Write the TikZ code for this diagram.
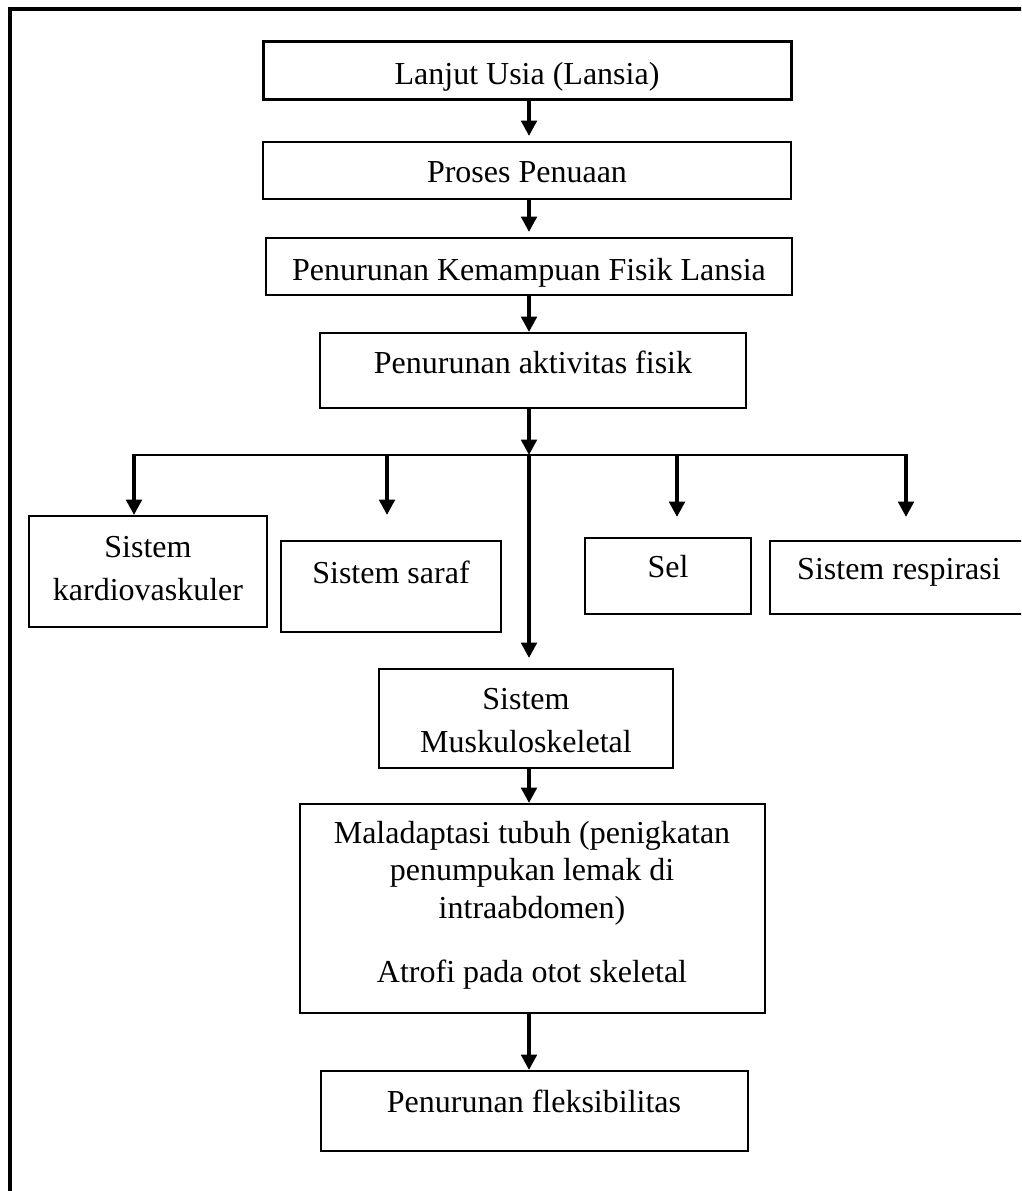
\documentclass[tikz,border=0pt]{standalone}
\usepackage{fontspec}
\setmainfont{Liberation Serif}
\usetikzlibrary{arrows.meta,calc,fit}
\begin{document}
\begin{tikzpicture}[x=0.75pt,y=-0.75pt,
  box/.style={draw, line width=1.5pt, inner sep=0pt},
  thickbox/.style={box, line width=2.25pt},
  lbl/.style={font=\fontsize{24}{28}\selectfont, align=center, inner sep=0pt, anchor=base},
  lblwide/.style={lbl, font=\fontsize{24}{32}\selectfont},
  arr/.style={line width=2.8pt, -{Triangle[width=11.5pt,length=11.5pt]}},
  busline/.style={line width=1.6pt},
  frameline/.style={line width=3pt}]
\useasboundingbox (0,0) rectangle (1021,1191);
\clip (0,0) rectangle (1021,1191);

% outer frame (top and left sides visible)
\draw[frameline] (10,1200) -- (10,9.5) -- (1030,9.5);

% boxes
\node[thickbox, fit={(263,42) (791,100)}] (b1) {};
\node[box, fit={(263,142) (791,199)}] (b2) {};
\node[box, fit={(266,238) (792,295)}] (b3) {};
\node[box, fit={(320,333) (746,408)}] (b4) {};
\node[box, fit={(29,516) (267,627)}] (kar) {};
\node[box, fit={(281,541) (501,632)}] (sar) {};
\node[box, fit={(585,538) (751,614)}] (sel) {};
\node[box, fit={(770,541) (1028,614)}] (res) {};
\node[box, fit={(379,669) (673,768)}] (mus) {};
\node[box, fit={(300,804) (765,1013)}] (mal) {};
\node[box, fit={(321,1071) (748,1151)}] (fle) {};

% texts (base anchor = baseline of the last line)
\node[lbl] (t1) at (527,85) {Lanjut Usia (Lansia)};
\node[lbl] (t2) at (527,183) {Proses Penuaan};
\node[lbl] (t3) at (529,280) {Penurunan Kemampuan Fisik Lansia};
\node[lbl] (t4) at (533,373) {Penurunan aktivitas fisik};
\node[lblwide] (tkar) at (148,600) {Sistem\\kardiovaskuler};
\node[lbl] (tsar) at (391,583) {Sistem saraf};
\node[lbl] (tsel) at (668,577) {Sel};
\node[lbl] (tres) at (899,579) {Sistem respirasi};
\node[lblwide] (tmus) at (526,752) {Sistem\\Muskuloskeletal};
\node[lbl] (tmal) at (532,982) {Maladaptasi tubuh (penigkatan\\penumpukan lemak di\\intraabdomen)\\[20pt]Atrofi pada otot skeletal};
\node[lbl] (tfle) at (534,1112) {Penurunan fleksibilitas};

% connectors
\coordinate (sp) at (529,0);
\coordinate (hub) at (529,455);
\coordinate (j1) at (134,455);
\coordinate (j2) at (387,455);
\coordinate (j3) at (677,455);
\coordinate (j4) at (906,455);

\draw[arr] (b1.south -| sp) -- ($(b2.north -| sp)+(0,-5)$);
\draw[arr] (b2.south -| sp) -- ($(b3.north -| sp)+(0,-5)$);
\draw[arr] (b3.south -| sp) -- (b4.north -| sp);
\draw[arr] (b4.south -| sp) -- (hub);
\draw[busline] (j1) -- (j4);
\draw[arr] ($(j1)+(0,-1)$) -- (j1 |- kar.north);
\draw[arr] ($(j2)+(0,-1)$) -- ($(j2 |- sar.north)+(0,-25)$);
\draw[arr] ($(j3)+(0,-1)$) -- ($(j3 |- sel.north)+(0,-20)$);
\draw[arr] ($(j4)+(0,-1)$) -- ($(j4 |- res.north)+(0,-23)$);
\draw[arr] (hub) -- ($(mus.north -| sp)+(0,-10)$);
\draw[arr] (mus.south -| sp) -- (mal.north -| sp);
\draw[arr] (mal.south -| sp) -- (fle.north -| sp);
\end{tikzpicture}
\end{document}
